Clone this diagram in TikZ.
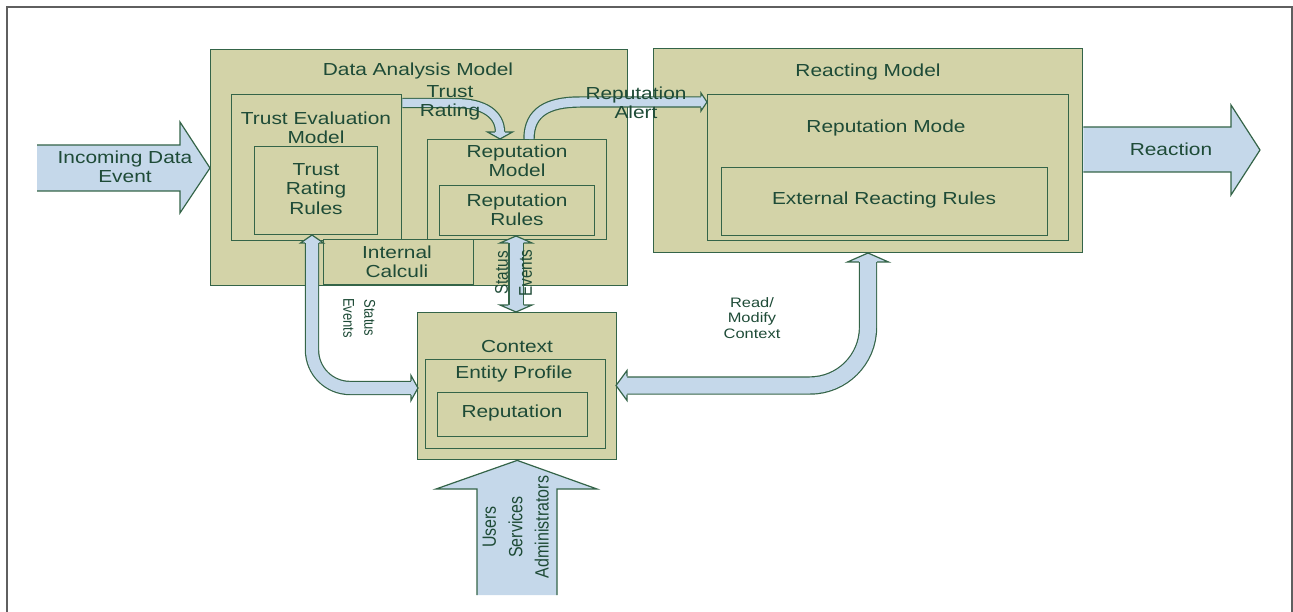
\documentclass[tikz,border=0pt]{standalone}
\usepackage{fontspec}
\setmainfont{Liberation Sans}[FakeStretch=1.2]
\newfontfamily\rotfont{Liberation Sans}
\usetikzlibrary{calc}
\definecolor{kh}{RGB}{211,211,168}
\definecolor{bd}{RGB}{52,100,72}
\definecolor{af}{RGB}{197,216,234}
\definecolor{tx}{RGB}{30,75,55}
\definecolor{frm}{RGB}{95,95,95}
\newcommand{\bhead}[4]{%
  \fill[af] ($(#2)!#3!90:(#1)$) -- (#1) -- ($(#2)!#3!-90:(#1)$) -- cycle;
  \draw[aline] ($(#2)!#4!90:(#1)$) -- ($(#2)!#3!90:(#1)$) -- (#1) -- ($(#2)!#3!-90:(#1)$) -- ($(#2)!#4!-90:(#1)$);}
\tikzset{
  box/.style={draw=bd, fill=kh, line width=1.4pt, inner sep=0pt, anchor=north west},
  lbl/.style={text=tx, align=center, inner sep=0pt, font=\fontsize{17.4}{19.5}\selectfont},
  band/.style={draw=bd, line width=1.2pt, double=af},
  aline/.style={draw=bd, line width=1.2pt, line join=miter},
}
\begin{document}
\begin{tikzpicture}[x=1pt,y=-1pt]
\useasboundingbox (0,0) rectangle (1293,612);
% outer frame
\draw[frm, line width=1.5pt] (7,614) -- (7,7) -- (1292,7) -- (1292,614);

% Data analysis model
\node[box, minimum width=417pt, minimum height=236pt] (dam) at (210,49) {};
\node[lbl] (damt) at (418,71) {Data Analysis Model};
\node[box, minimum width=170pt, minimum height=146pt] (tem) at (231,94) {};
\node[lbl] (temt) at (316,128) {Trust Evaluation\\Model};
\node[box, minimum width=123pt, minimum height=88pt] (trr) at (254,146) {};
\node[lbl] (trrt) at (316,189) {Trust\\Rating\\Rules};
\node[box, minimum width=179pt, minimum height=100pt] (rm) at (427,139) {};
\node[lbl] (rmt) at (517,161) {Reputation\\Model};
\node[box, minimum width=155pt, minimum height=50pt] (rr) at (439,185) {};
\node[lbl] (rrt) at (517,210) {Reputation\\Rules};
\node[box, minimum width=150pt, minimum height=45pt] (ic) at (323,239) {};
\node[lbl] (ict) at (397,262) {Internal\\Calculi};

% Reacting model
\node[box, minimum width=429pt, minimum height=204pt] (rem) at (653,48) {};
\node[lbl] (remt) at (868,72) {Reacting Model};
\node[box, minimum width=361pt, minimum height=146pt] (rmo) at (707,94) {};
\node[lbl] (rmot) at (886,128) {Reputation Mode};
\node[box, minimum width=326pt, minimum height=68pt] (err) at (721,167) {};
\node[lbl] (errt) at (884,200) {External Reacting Rules};

% Context
\node[box, minimum width=199pt, minimum height=147pt] (ctx) at (417,312) {};
\node[lbl] (ctxt) at (517,347) {Context};
\node[box, minimum width=180pt, minimum height=89pt] (ep) at (425,359) {};
\node[lbl] (ept) at (514,374) {Entity Profile};
\node[box, minimum width=150pt, minimum height=44pt] (rep) at (437,392) {};
\node[lbl] (rept) at (512,413) {Reputation};

% Incoming data event arrow
\fill[af] (37,145) -- (180,145) -- (180,122) -- (dam.west |- 0,168) -- (180,213) -- (180,191) -- (37,191) -- cycle;
\draw[aline] (37,145) -- (180,145) -- (180,122) -- (dam.west |- 0,168) -- (180,213) -- (180,191) -- (37,191);
\node[lbl] (inc) at (125,167) {Incoming Data\\Event};

% Reaction arrow
\fill[af] (rem.east |- 0,127) -- (1231,127) -- (1231,105) -- (1260,150) -- (1231,195) -- (1231,172) -- (rem.east |- 0,172) -- cycle;
\draw[aline] (rem.east |- 0,127) -- (1231,127) -- (1231,105) -- (1260,150) -- (1231,195) -- (1231,172) -- (rem.east |- 0,172);
\node[lbl] (reac) at (1171,149) {Reaction};

% Users arrow
\fill[af] (477,595) -- (477,489) -- (436,489) -- (ctx.south) -- (597,489) -- (557,489) -- (557,595) -- cycle;
\draw[aline] (477,595) -- (477,489) -- (436,489) -- (ctx.south) -- (597,489) -- (557,489) -- (557,595);
\node[text=tx, inner sep=0pt, rotate=90] (usr) at (517,527)
  {\scalebox{1}[1.2]{\rotfont\fontsize{16}{22}\selectfont\begin{tabular}{@{}c@{}}Users\\Services\\Administrators\end{tabular}}};

% Trust rating arrow
\draw[band, double distance=8pt] (tem.east |- 0,103) -- (455,103) .. controls (485,103) and (500,115) .. (500,132);
\bhead{500,139}{500,132}{12.5pt}{5.2pt}
\node[lbl] (trl) at (450,103) {Trust\\Rating};

% Reputation alert arrow
\draw[band, double distance=9pt] (529,139) .. controls (529,112) and (548,102) .. (580,102) -- (701,102);
\bhead{707,102}{701,102}{9pt}{5.7pt}
\node[lbl] (ral) at (636,103) {Reputation\\Alert};

% Status events (middle)
\draw[band, double distance=13pt] (516,243) -- (516,305);
\bhead{516,236}{516,243}{16pt}{7.7pt}
\bhead{516,312}{516,305}{16pt}{7.7pt}
\node[text=tx, inner sep=0pt, rotate=90] (se1) at (515,273)
  {\scalebox{1}[1.2]{\rotfont\fontsize{15.3}{20}\selectfont\begin{tabular}{@{}c@{}}Status\\Events\end{tabular}}};

% Status events (left)
\draw[band, double distance=12pt] (312,243) -- (312,350) .. controls (312,371) and (329,388) .. (350,388) -- (411,388);
\bhead{312,235}{312,243}{11.5pt}{7.2pt}
\bhead{418,388}{411,388}{12.5pt}{7.2pt}
\node[text=tx, inner sep=0pt, rotate=-90] (se2) at (358,318)
  {\scalebox{1}[1.2]{\rotfont\fontsize{13}{17.5}\selectfont\begin{tabular}{@{}c@{}}Status\\Events\end{tabular}}};

% Read / modify context arrow
\draw[band, double distance=16pt] (627,385.5) -- (810,385.5) .. controls (842,385.5) and (868,359.5) .. (868,327.5) -- (868,262);
\bhead{616,385.5}{627,385.5}{15pt}{9.2pt}
\bhead{868,253}{868,262}{20.5pt}{9.2pt}
\node[text=tx, align=center, inner sep=0pt, font=\fontsize{13.7}{15.8}\selectfont] (rmc) at (752,318) {Read/\\Modify\\Context};
\end{tikzpicture}
\end{document}
